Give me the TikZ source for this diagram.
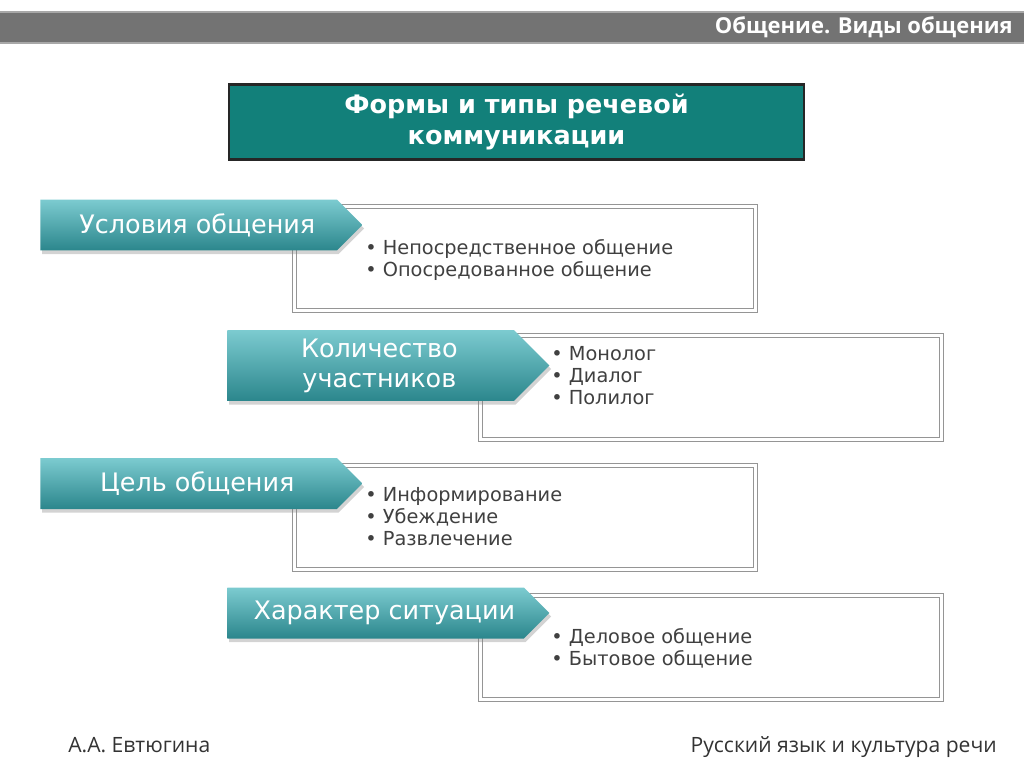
\documentclass[tikz,border=0pt]{standalone}
\usepackage{fontspec}
\setmainfont{DejaVu Sans}
\newfontfamily\headfont{Open Sans}
\usetikzlibrary{positioning}
\usetikzlibrary{shapes.symbols,shadows}
\definecolor{barGray}{HTML}{737373}
\definecolor{barEdge}{HTML}{A8A8A8}
\definecolor{titleTeal}{HTML}{12807A}
\definecolor{arrowTop}{HTML}{7CCBD0}
\definecolor{arrowMid}{HTML}{44A1A7}
\definecolor{arrowBot}{HTML}{2B868C}
\definecolor{boxGray}{HTML}{959595}
\definecolor{listText}{HTML}{404040}
\definecolor{footText}{HTML}{333333}
% the label sits a little right of the body's centre
\newcommand{\padl}{\hspace*{10pt}}
\tikzset{
	titlebox/.style={
		rectangle,
		fill=titleTeal,
		draw=black!85, line width=1.2pt,
		minimum width=11.5cm,
		minimum height=1.5cm,
		text=white,
		font=\bfseries\fontsize{14.5}{17.5}\selectfont,
		align=center},
	stepsign/.style={
		signal, signal to=east, signal from=nowhere,
		signal pointer angle=90,
		top color=arrowTop,
		middle color=arrowMid,
		bottom color=arrowBot,
		draw=none,
		drop shadow={shadow xshift=1pt, shadow yshift=-2pt, opacity=0.35},
		minimum width=6.44cm,
		minimum height=1.02cm,
		text=white,
		font=\fontsize{14.5}{17}\selectfont,
		align=center},
	listbox/.style={
		rectangle,
		draw=boxGray, line width=0.6pt,
		double=white, double distance=1.4pt,
		minimum width=9.22cm,
		minimum height=2.08cm,
		anchor=north west},
	listtext/.style={
		anchor=north west,
		align=left,
		inner sep=0pt,
		text=listText,
		font=\fontsize{11}{12.5}\selectfont},
	foot/.style={text=footText, font=\headfont\fontsize{12}{14}\selectfont, inner sep=0pt},
}
\begin{document}
\begin{tikzpicture}[x=0.02cm, y=-0.02cm]
	\useasboundingbox (0,0) rectangle (1024,767);

	% header bar
	\fill[barGray] (0,12) rectangle (1024,43);
	\draw[barEdge, line width=1pt] (0,12) -- (1024,12) (0,43) -- (1024,43);
	\node[anchor=base east, inner sep=0pt, text=white,
		font=\headfont\bfseries\fontsize{12.5}{14}\selectfont] (header) at (1013,34) {Общение. Виды общения};

	\node[titlebox] (forms) at (516.5,122) {Формы и типы речевой\\коммуникации};

	% the boxes go first, the arrows lie on them
	\node[listbox] (box1) at (294,206) {};
	\node[listbox] (box2) at (480,335) {};
	\node[listbox] (box3) at (294,465) {};
	\node[listbox] (box4) at (480,595) {};

	\node[stepsign, anchor=west] (usl) at (40,225) {\padl Условия общения};
	\node[stepsign, anchor=west, minimum height=1.42cm] (kol) at (227,365.5) {\padl Количество\\\padl участников};
	\node[stepsign, anchor=west] (cel) at (40,483.5) {\padl Цель общения};
	\node[stepsign, anchor=west] (har) at (227,613) {\padl Характер ситуации};

	\node[listtext] (list1) at (365,239) {• Непосредственное общение\\• Опосредованное общение};
	\node[listtext] (list2) at (551,346) {• Монолог\\• Диалог\\• Полилог};
	\node[listtext] (list3) at (365,487) {• Информирование\\• Убеждение\\• Развлечение};
	\node[listtext] (list4) at (551,628) {• Деловое общение\\• Бытовое общение};

	% footer
	\node[foot, anchor=base west] (author) at (68,752) {А.А. Евтюгина};
	\node[foot, anchor=base east] (course) at (997,752) {Русский язык и культура речи};
\end{tikzpicture}
\end{document}
